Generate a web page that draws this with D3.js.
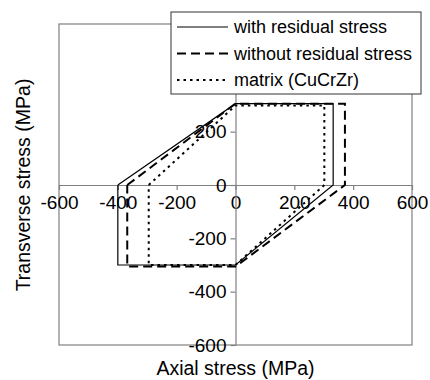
<!DOCTYPE html>
<html>
<head>
<meta charset="utf-8">
<script src="https://cdn.jsdelivr.net/npm/d3@7"></script>
<style>
  body { margin: 0; background: #fff; }
  text { font-family: "Liberation Sans", Arial, sans-serif; }
</style>
</head>
<body>
<div id="chart"></div>
<script>
// yield loci, values (MPa)
var seriesNames = ["with residual stress", "without residual stress", "matrix (CuCrZr)"];

var withAxial = [-400, 0, 332, 332, 0, -400, -400];
var withTrans = [0, 305, 305, 0, -300, -300, 0];

var withoutAxial = [-368, 0, 372, 372, 0, -368, -368];
var withoutTrans = [0, 305, 305, 0, -306, -306, 0];

var matrixAxial = [-295, 0, 302, 302, 0, -295, -295];
var matrixTrans = [0, 298, 298, 0, -300, -300, 0];

var tickValues = [-600, -400, -200, 0, 200, 400, 600];

var W = 430, H = 380;
var svg = d3.select('#chart').append('svg')
    .attr('width', W)
    .attr('height', H);

var x = d3.scaleLinear().domain([-600, 600]).range([59, 412]);
var y = d3.scaleLinear().domain([-600, 600]).range([345, 25]);

var frameColor = '#808080';

// plot box
svg.append('rect')
    .attr('x', x(-600)).attr('y', y(600) - 1)
    .attr('width', x(600) - x(-600))
    .attr('height', y(-600) - y(600) + 1)
    .attr('fill', 'none')
    .attr('stroke', frameColor)
    .attr('stroke-width', 1.2);

// axes crossing at the origin
var xAxis = svg.append('g')
    .attr('transform', 'translate(0,' + y(0) + ')')
    .call(d3.axisBottom(x).tickValues(tickValues).tickFormat(d3.format('d'))
      .tickSize(5).tickSizeOuter(0).tickPadding(6));
var yAxis = svg.append('g')
    .attr('transform', 'translate(' + x(0) + ',0)')
    .call(d3.axisLeft(y).tickValues(tickValues).tickFormat(d3.format('d'))
      .tickSize(5).tickSizeOuter(0).tickPadding(4));

[xAxis, yAxis].forEach(function(a) {
  a.selectAll('path, line').attr('stroke', frameColor).attr('stroke-width', 1.2);
  a.selectAll('text')
    .attr('fill', '#000')
    .style('font-size', '19px')
    .style('font-family', '"Liberation Sans", Arial, sans-serif');
});
// d3 uses a unicode minus; the figure uses a plain hyphen
svg.selectAll('.tick text').text(function(d) { return String(d); });

var styles = [
  { dash: null, width: 1.2 },
  { dash: '9,5', width: 2 },
  { dash: '2.5,4', width: 2 }
];

var curves = [
  d3.zip(withAxial, withTrans),
  d3.zip(withoutAxial, withoutTrans),
  d3.zip(matrixAxial, matrixTrans)
];

var line = d3.line()
    .x(function(d) { return x(d[0]); })
    .y(function(d) { return y(d[1]); });

svg.selectAll('path.curve')
  .data(curves)
  .enter().append('path')
    .attr('class', 'curve')
    .attr('d', line)
    .attr('fill', 'none')
    .attr('stroke', '#000')
    .attr('stroke-width', function(d, i) { return styles[i].width; })
    .attr('stroke-dasharray', function(d, i) { return styles[i].dash; });

// axis titles
svg.append('text')
    .attr('x', (x(-600) + x(600)) / 2)
    .attr('y', 375)
    .attr('text-anchor', 'middle')
    .style('font-size', '19.5px')
    .text('Axial stress (MPa)');

svg.append('text')
    .attr('transform', 'translate(30,' + ((y(-600) + y(600)) / 2) + ') rotate(-90)')
    .attr('text-anchor', 'middle')
    .style('font-size', '19.5px')
    .text('Transverse stress (MPa)');

// legend
var legend = svg.append('g').attr('transform', 'translate(171,12)');
legend.append('rect')
    .attr('width', 250).attr('height', 82)
    .attr('fill', '#fff')
    .attr('stroke', '#333')
    .attr('stroke-width', 1);

var rows = legend.selectAll('g.row')
  .data(seriesNames)
  .enter().append('g')
    .attr('class', 'row')
    .attr('transform', function(d, i) { return 'translate(0,' + (15 + i * 26.5) + ')'; });

rows.append('line')
    .attr('x1', 6).attr('x2', 57)
    .attr('stroke', '#000')
    .attr('stroke-width', function(d, i) { return styles[i].width; })
    .attr('stroke-dasharray', function(d, i) { return styles[i].dash; });

rows.append('text')
    .attr('x', 63)
    .attr('dy', '0.35em')
    .style('font-size', '18px')
    .text(function(d) { return d; });
</script>
</body>
</html>
